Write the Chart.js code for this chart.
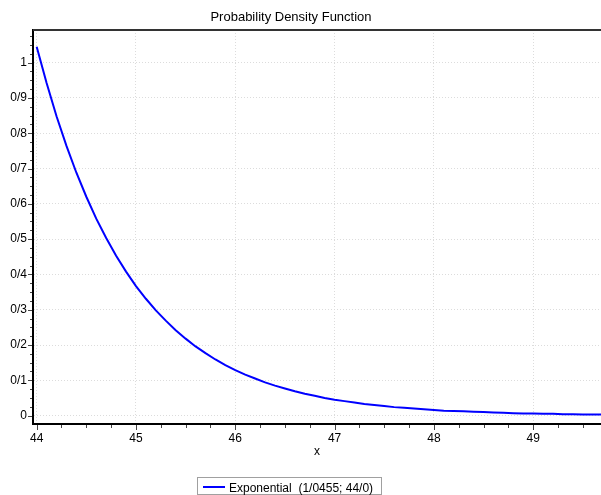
<!DOCTYPE html>
<html>
<head>
<meta charset="utf-8">
<script src="https://cdn.jsdelivr.net/npm/chart.js@4/dist/chart.umd.min.js"></script>
<style>
    html, body { margin: 0; padding: 0; background: #fff; }
</style>
</head>
<body>
<canvas id="pdfChart" width="601" height="495"></canvas>
<script>
// Exponential density, x every 0.1
const xValues = [
    44.0, 44.1, 44.2, 44.3, 44.4, 44.5, 44.6, 44.7, 44.8, 44.9,
    45.0, 45.1, 45.2, 45.3, 45.4, 45.5, 45.6, 45.7, 45.8, 45.9,
    46.0, 46.1, 46.2, 46.3, 46.4, 46.5, 46.6, 46.7, 46.8, 46.9,
    47.0, 47.1, 47.2, 47.3, 47.4, 47.5, 47.6, 47.7, 47.8, 47.9,
    48.0, 48.1, 48.2, 48.3, 48.4, 48.5, 48.6, 48.7, 48.8, 48.9,
    49.0, 49.1, 49.2, 49.3, 49.4, 49.5, 49.6, 49.7
];
const densityValues = [
    1.045, 0.942, 0.848, 0.764, 0.688, 0.620, 0.558, 0.503, 0.453, 0.408,
    0.367, 0.331, 0.298, 0.269, 0.242, 0.218, 0.196, 0.177, 0.159, 0.143,
    0.129, 0.116, 0.105, 0.094, 0.085, 0.077, 0.069, 0.062, 0.056, 0.050,
    0.045, 0.041, 0.037, 0.033, 0.030, 0.027, 0.024, 0.022, 0.020, 0.018,
    0.016, 0.014, 0.013, 0.012, 0.011, 0.010, 0.009, 0.008, 0.007, 0.006,
    0.006, 0.005, 0.005, 0.004, 0.004, 0.003, 0.003, 0.003
];
const xTickValues = [44, 45, 46, 47, 48, 49];
const xTickLabels = ['44', '45', '46', '47', '48', '49'];
const yTickValues = [0, 0.1, 0.2, 0.3, 0.4, 0.5, 0.6, 0.7, 0.8, 0.9, 1];
const yTickLabels = ['0', '0/1', '0/2', '0/3', '0/4', '0/5', '0/6', '0/7', '0/8', '0/9', '1'];

const seriesLabel = 'Exponential  (1/0455; 44/0)';
const chartTitle = 'Probability Density Function';
const FONT = '"Liberation Sans", Arial, sans-serif';

// minor ticks, top border, title and boxed legend
const decorPlugin = {
    id: 'decor',
    afterDraw(chart) {
        const { ctx, chartArea: a, scales: { x, y } } = chart;
        ctx.save();

        ctx.strokeStyle = '#333';
        ctx.lineWidth = 2;
        ctx.beginPath();
        ctx.moveTo(a.left, a.top);
        ctx.lineTo(a.right, a.top);
        ctx.stroke();

        ctx.lineWidth = 1;
        ctx.strokeStyle = '#444';
        ctx.beginPath();
        for (let i = 0; ; i++) {
            const v = xTickValues[0] + i * 0.25;
            if (v > x.max) break;
            const px = Math.round(x.getPixelForValue(v)) + 0.5;
            const len = i % 4 === 0 ? 5 : 3;
            ctx.moveTo(px, a.bottom + 1);
            ctx.lineTo(px, a.bottom + 1 + len);
        }
        for (let i = 0; ; i++) {
            const v = yTickValues[0] + i * 0.025;
            if (v > y.max) break;
            const py = Math.round(y.getPixelForValue(v)) + 0.5;
            const len = i % 4 === 0 ? 4 : 2;
            ctx.moveTo(a.left - 1, py);
            ctx.lineTo(a.left - 1 - len, py);
        }
        ctx.stroke();

        ctx.fillStyle = '#000';
        ctx.font = '13px ' + FONT;
        ctx.textAlign = 'center';
        ctx.textBaseline = 'middle';
        ctx.fillText(chartTitle, 291, 17.5);

        const ds = chart.data.datasets[0];
        ctx.strokeStyle = '#a0a0a0';
        ctx.strokeRect(197.5, 477.5, 184, 17);
        ctx.strokeStyle = ds.borderColor;
        ctx.lineWidth = 2;
        ctx.beginPath();
        ctx.moveTo(203, 487);
        ctx.lineTo(225, 487);
        ctx.stroke();
        ctx.font = '12px ' + FONT;
        ctx.textAlign = 'left';
        ctx.fillText(ds.label, 229, 488.5);

        ctx.restore();
    }
};

const ctx = document.getElementById('pdfChart').getContext('2d');
const pdfChart = new Chart(ctx, {
    type: 'line',
    data: {
        datasets: [{
            label: seriesLabel,
            data: xValues.map((xv, i) => ({ x: xv, y: densityValues[i] })),
            borderColor: '#0000ff',
            borderWidth: 2,
            pointRadius: 0,
            tension: 0,
            fill: false
        }]
    },
    options: {
        responsive: false,
        animation: false,
        layout: {
            padding: { top: 30, bottom: 36, left: 0, right: 0 }
        },
        plugins: {
            legend: { display: false },
            title: { display: false },
            tooltip: { enabled: false }
        },
        scales: {
            x: {
                type: 'linear',
                min: 43.963,
                max: 49.683,
                afterBuildTicks: scale => {
                    scale.ticks = xTickValues.map(v => ({ value: v }));
                },
                afterFit: scale => {
                    scale.height = 35;
                },
                grid: {
                    color: '#dcdcdc',
                    drawTicks: false
                },
                border: {
                    display: true,
                    color: '#000',
                    width: 2,
                    dash: [1, 2]
                },
                ticks: {
                    padding: 7,
                    color: '#000',
                    maxRotation: 0,
                    font: { size: 12, family: FONT },
                    callback: (value, index) => xTickLabels[index]
                },
                title: {
                    display: true,
                    text: 'x',
                    color: '#000',
                    padding: { top: 0, bottom: 0 },
                    font: { size: 12, family: FONT }
                }
            },
            y: {
                type: 'linear',
                min: -0.0238,
                max: 1.0924,
                afterBuildTicks: scale => {
                    scale.ticks = yTickValues.map(v => ({ value: v }));
                },
                afterFit: scale => {
                    scale.width = 33;
                },
                grid: {
                    color: '#dcdcdc',
                    drawTicks: false
                },
                border: {
                    display: true,
                    color: '#000',
                    width: 2,
                    dash: [1, 2]
                },
                ticks: {
                    padding: 6,
                    color: '#000',
                    font: { size: 12, family: FONT },
                    callback: (value, index) => yTickLabels[index]
                }
            }
        }
    },
    plugins: [decorPlugin]
});
</script>
</body>
</html>
